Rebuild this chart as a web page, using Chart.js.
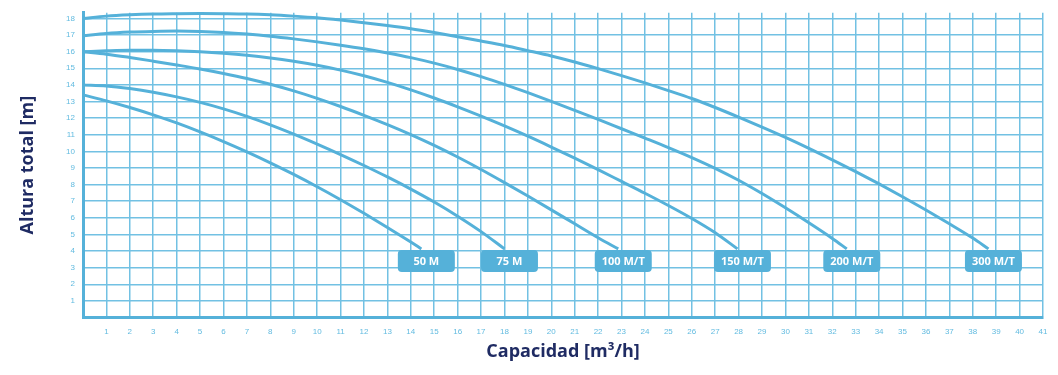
<!DOCTYPE html>
<html>
<head>
<meta charset="utf-8">
<title>Curvas de bombas</title>
<script src="https://cdn.jsdelivr.net/npm/chart.js@4.4.1/dist/chart.umd.min.js"></script>
<style>
    html, body { margin: 0; padding: 0; background: #fff; }
    #wrap { width: 1058px; height: 375px; position: relative; }
</style>
</head>
<body>
<div id="wrap"><canvas id="curvasChart"></canvas></div>
<script>
// Datos: caudal (m3/h) y altura (m) de cada bomba
const modelos = ['50 M', '75 M', '100 M/T', '150 M/T', '200 M/T', '300 M/T'];

const q50 = [0, 1, 2, 3, 4, 5, 6, 7, 8, 9, 10, 11, 12, 13, 14, 14.45];
const h50 = [13.4, 13.04, 12.64, 12.2, 11.71, 11.17, 10.59, 9.97, 9.31, 8.61, 7.87, 7.09, 6.27, 5.42, 4.54, 4.13];

const q75 = [0, 1, 2, 3, 4, 5, 6, 7, 8, 9, 10, 11, 12, 13, 14, 15, 16, 17, 18];
const h75 = [14.0, 13.94, 13.78, 13.56, 13.28, 12.95, 12.56, 12.11, 11.6, 11.04, 10.44, 9.81, 9.15, 8.46, 7.73, 6.95, 6.1, 5.17, 4.13];

const q100 = [0, 1, 2, 3, 4, 5, 6, 7, 8, 9, 10, 11, 12, 13, 14, 15, 16, 17, 18, 19, 20, 21, 22, 22.86];
const h100 = [16.0, 15.85, 15.65, 15.43, 15.2, 14.96, 14.69, 14.39, 14.04, 13.64, 13.19, 12.7, 12.17, 11.61, 11.01, 10.36, 9.66, 8.91, 8.12, 7.31, 6.48, 5.64, 4.8, 4.13];

const q150 = [0, 1, 2, 3, 4, 5, 6, 7, 8, 9, 10, 11, 12, 13, 14, 15, 16, 17, 18, 19, 20, 21, 22, 23, 24, 25, 26, 27, 27.95];
const h150 = [16.0, 16.05, 16.08, 16.08, 16.05, 15.99, 15.9, 15.78, 15.62, 15.42, 15.18, 14.89, 14.55, 14.15, 13.7, 13.21, 12.68, 12.12, 11.53, 10.91, 10.26, 9.59, 8.9, 8.19, 7.48, 6.74, 5.96, 5.1, 4.13];

const q200 = [0, 1, 2, 3, 4, 5, 6, 7, 8, 9, 10, 11, 12, 13, 14, 15, 16, 17, 18, 19, 20, 21, 22, 23, 24, 25, 26, 27, 28, 29, 30, 31, 32, 32.62];
const h200 = [16.96, 17.1, 17.18, 17.22, 17.24, 17.22, 17.16, 17.06, 16.93, 16.77, 16.59, 16.39, 16.17, 15.92, 15.64, 15.31, 14.93, 14.5, 14.03, 13.53, 13.01, 12.47, 11.92, 11.36, 10.8, 10.23, 9.63, 8.98, 8.26, 7.46, 6.6, 5.7, 4.76, 4.13];

const q300 = [0, 1, 2, 3, 4, 5, 6, 7, 8, 9, 10, 11, 12, 13, 14, 15, 16, 17, 18, 19, 20, 21, 22, 23, 24, 25, 26, 27, 28, 29, 30, 31, 32, 33, 34, 35, 36, 37, 38, 38.67];
const h300 = [18.0, 18.14, 18.22, 18.27, 18.29, 18.3, 18.29, 18.27, 18.22, 18.14, 18.04, 17.9, 17.74, 17.57, 17.38, 17.15, 16.9, 16.64, 16.37, 16.06, 15.74, 15.38, 14.98, 14.56, 14.12, 13.66, 13.18, 12.64, 12.06, 11.46, 10.84, 10.18, 9.49, 8.78, 8.04, 7.27, 6.47, 5.64, 4.78, 4.13];

// Ticks de los ejes
const xTicks = Array.from({ length: 42 }, (_, i) => i);   // 0..41
const yTicks = Array.from({ length: 19 }, (_, i) => i);   // 0..18

const caudales = [q50, q75, q100, q150, q200, q300];
const alturas = [h50, h75, h100, h150, h200, h300];

const AZUL = '#55b1d9';
const GRID = '#72c1e3';
const NAVY = '#1f2b63';

function puntos(qs, hs) {
    return qs.map((q, i) => ({ x: q, y: hs[i] }));
}

const datasets = modelos.map((nombre, i) => ({
    label: nombre,
    data: puntos(caudales[i], alturas[i]),
    borderColor: AZUL,
    borderWidth: 3,
    pointRadius: 0,
    cubicInterpolationMode: 'monotone',
    fill: false,
    clip: 6
}));

// Etiqueta con el nombre del modelo al final de cada curva
const etiquetasPlugin = {
    id: 'etiquetas',
    afterDatasetsDraw(chart) {
        const ctx = chart.ctx;
        ctx.save();
        chart.data.datasets.forEach((ds, i) => {
            const meta = chart.getDatasetMeta(i);
            const ultimo = meta.data[meta.data.length - 1];
            const w = 57, h = 22;
            const cx = ultimo.x + 5;
            const top = ultimo.y + 1;
            ctx.fillStyle = AZUL;
            ctx.beginPath();
            ctx.roundRect(cx - w / 2, top, w, h, 4);
            ctx.fill();
            ctx.fillStyle = '#ffffff';
            ctx.font = 'bold 11px "Open Sans", sans-serif';
            ctx.textAlign = 'center';
            ctx.textBaseline = 'middle';
            ctx.fillText(ds.label, cx, top + h / 2 + 0.5);
        });
        ctx.restore();
    }
};

const ctx = document.getElementById('curvasChart').getContext('2d');
const curvasChart = new Chart(ctx, {
    type: 'line',
    data: { datasets: datasets },
    options: {
        responsive: true,
        maintainAspectRatio: false,
        animation: false,
        layout: {
            padding: { left: 17, right: 15, top: 10, bottom: 12 }
        },
        plugins: {
            legend: { display: false },
            tooltip: { enabled: false }
        },
        scales: {
            x: {
                type: 'linear',
                min: 0,
                max: 41,
                afterBuildTicks: s => { s.ticks = xTicks.map(v => ({ value: v })); },
                afterFit: s => { s.height = 45.5; },
                grid: { color: GRID, lineWidth: 1.5, drawTicks: false },
                border: { color: AZUL, width: 3 },
                ticks: {
                    color: '#62bbe0',
                    font: { family: 'Liberation Sans', size: 8 },
                    padding: 9,
                    maxRotation: 0,
                    autoSkip: false,
                    callback: v => (v === 0 ? '' : v)
                },
                title: {
                    display: true,
                    text: 'Capacidad [m³/h]',
                    color: NAVY,
                    font: { family: 'Open Sans', size: 18, weight: 'bold' },
                    padding: 0
                }
            },
            y: {
                type: 'linear',
                min: 0,
                max: 18.34,
                afterBuildTicks: s => { s.ticks = yTicks.map(v => ({ value: v })); },
                afterFit: s => { s.width = 66; },
                grid: { color: GRID, lineWidth: 1.5, drawTicks: false },
                border: { color: AZUL, width: 3 },
                ticks: {
                    color: '#62bbe0',
                    font: { family: 'Liberation Sans', size: 8 },
                    padding: 8,
                    autoSkip: false,
                    callback: v => (v === 0 ? '' : v)
                },
                title: {
                    display: true,
                    text: 'Altura total [m]',
                    color: NAVY,
                    font: { family: 'Open Sans', size: 18, weight: 'bold' },
                    padding: 0
                }
            }
        }
    },
    plugins: [etiquetasPlugin]
});
</script>
</body>
</html>
